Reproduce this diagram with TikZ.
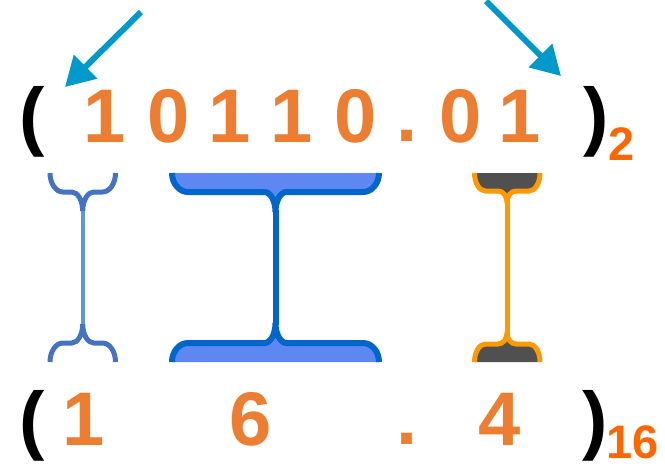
\documentclass[tikz,border=0pt]{standalone}
\usepackage{fontspec}
\setmainfont{Liberation Sans}
\usetikzlibrary{arrows.meta}

\definecolor{digit}{HTML}{ED7D31}
\definecolor{radix}{HTML}{FF6600}
\definecolor{pointer}{HTML}{0099CC}
\definecolor{braceA}{HTML}{4472C4}
\definecolor{stemA}{HTML}{5B9BD5}
\definecolor{beamfill}{HTML}{5F87F2}
\definecolor{beamline}{HTML}{0066CC}
\definecolor{capfill}{HTML}{505050}
\definecolor{capline}{HTML}{FF9900}

% open outline of one cap of a bracket:
% #1 left x, #2 right x, #3 stem x, #4 edge y, #5 direction (1 down, -1 up),
% #6 corner x radius, #7 corner y radius, #8 neck x radius, #9 neck y radius
\newcommand\capcurve[9]{%
  (#1,#4) .. controls (#1,{#4+0.552*#7*#5}) and ({#1+0.448*#6},{#4+#7*#5}) .. ({#1+#6},{#4+#7*#5})
  -- ({#3-#8},{#4+#7*#5}) .. controls ({#3-0.448*#8},{#4+#7*#5}) and (#3,{#4+(#7+0.448*#9)*#5}) .. (#3,{#4+(#7+#9)*#5})
  .. controls (#3,{#4+(#7+0.448*#9)*#5}) and ({#3+0.448*#8},{#4+#7*#5}) .. ({#3+#8},{#4+#7*#5})
  -- ({#2-#6},{#4+#7*#5}) .. controls ({#2-0.448*#6},{#4+#7*#5}) and (#2,{#4+0.552*#7*#5}) .. (#2,#4)}

\tikzset{
  glyph/.style={inner sep=0pt, outer sep=0pt, font=\fontsize{76}{76}\selectfont\bfseries},
  num/.style={glyph, text=digit},
  paren/.style={glyph, text=black},
  base/.style={inner sep=0pt, outer sep=0pt, font=\fontsize{47}{47}\selectfont\bfseries, text=radix},
  pointerarrow/.style={draw=pointer, line width=6pt, -{Triangle[length=29pt, width=32pt]}},
}

\begin{document}
\begin{tikzpicture}[x=1pt, y=-1pt]
  \useasboundingbox (0,0) rectangle (665,466);

  % binary number
  \node[paren] (lp2) at (32,122) {(};
  \node[num] (b1) at (104.5,116) {1};
  \node[num] (b2) at (169,116) {0};
  \node[num] (b3) at (229.5,116) {1};
  \node[num] (b4) at (291.5,116) {1};
  \node[num] (b5) at (356,116) {0};
  \node[num] (bp) at (407,136) {.};
  \node[num] (b6) at (461,116) {0};
  \node[num] (b7) at (519.5,116) {1};
  \node[paren] (rp2) at (596.5,122) {)};
  \node[base] (r2) at (622,144.5) {2};

  % hexadecimal number
  \node[paren] (lp16) at (32,425.5) {(};
  \node[num] (h1) at (83.5,419) {1};
  \node[num] (h2) at (250.5,419) {6};
  \node[num] (hp) at (407,438.5) {.};
  \node[num] (h3) at (499.5,419) {4};
  \node[paren] (rp16) at (595.5,425.5) {)};
  \node[base] (r16) at (633,442) {16};

  % grouping pointers
  \coordinate (tailL) at (141,12);
  \coordinate (tipL) at (65,87);
  \coordinate (tailR) at (486,1);
  \coordinate (tipR) at (561,76);
  \draw[pointerarrow] (tailL) -- (tipL);
  \draw[pointerarrow] (tailR) -- (tipR);

  % integer group "1" -> 1
  \draw[stemA, line width=4pt] (82.7,211) -- (82.7,324);
  \draw[braceA, line width=5pt] \capcurve{50}{115.5}{82.7}{173}{1}{13}{19}{11}{19};
  \draw[braceA, line width=5pt] \capcurve{50}{115.5}{82.7}{362}{-1}{13}{19}{11}{19};

  % integer group "0110" -> 6
  \fill[beamfill] \capcurve{172}{379}{275.5}{173}{1}{16}{19}{11}{20} -- cycle;
  \fill[beamfill] \capcurve{172}{379}{275.5}{362}{-1}{16}{19}{11}{20} -- cycle;
  \draw[beamline, line width=6pt] (275.5,210) -- (275.5,325);
  \draw[beamline, line width=6pt] \capcurve{172}{379}{275.5}{173}{1}{16}{19}{11}{20};
  \draw[beamline, line width=6pt] \capcurve{172}{379}{275.5}{362}{-1}{16}{19}{11}{20};

  % fraction group "01" -> 4
  \fill[capfill] \capcurve{474.5}{540}{507}{173}{1}{11}{18}{9}{11} -- cycle;
  \fill[capfill] \capcurve{474.5}{540}{507}{362}{-1}{11}{18}{9}{11} -- cycle;
  \draw[capline, line width=5pt] (507,200) -- (507,335);
  \draw[capline, line width=5pt] \capcurve{474.5}{540}{507}{173}{1}{11}{18}{9}{11};
  \draw[capline, line width=5pt] \capcurve{474.5}{540}{507}{362}{-1}{11}{18}{9}{11};
\end{tikzpicture}
\end{document}
